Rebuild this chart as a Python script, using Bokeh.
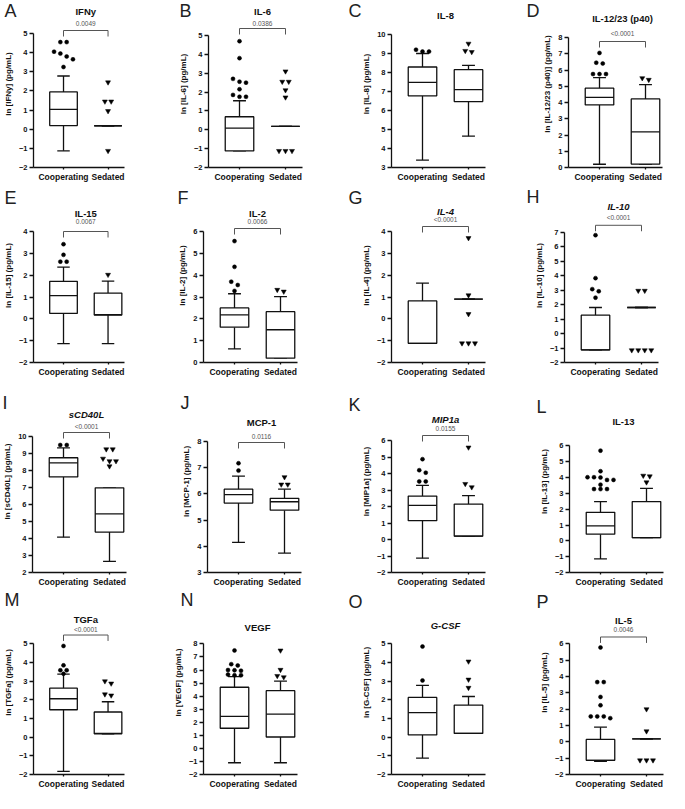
from bokeh.plotting import figure
from bokeh.layouts import column, row
from bokeh.models import Range1d, FixedTicker, Label
from bokeh.embed import file_html
from bokeh.resources import INLINE

FONT = "Liberation Sans"

# ---------------- data ----------------
groups = ["Cooperating", "Sedated"]
panel_letters = ["A", "B", "C", "D", "E", "F", "G", "H",
                 "I", "J", "K", "L", "M", "N", "O", "P"]
analytes = ["IFNy", "IL-6", "IL-8", "IL-12/23 (p40)", "IL-15", "IL-2", "IL-4", "IL-10",
            "sCD40L", "MCP-1", "MIP1a", "IL-13", "TGFa", "VEGF", "G-CSF", "IL-5"]
italic_titles = [False, False, False, False, False, False, True, True,
                 True, False, True, False, False, False, True, False]
p_values = ["0.0049", "0.0386", None, "<0.0001", "0.0067", "0.0066", "<0.0001", "<0.0001",
            "<0.0001", "0.0116", "0.0155", None, "<0.0001", None, None, "0.0046"]
y_axis_min = [-2, -2, 3, 0, -2, 0, -2, -2, 2, 3, -2, -2, -2, -2, -2, -2]
y_axis_max = [5, 5, 10, 8, 4, 6, 4, 7, 10, 8, 6, 6, 5, 8, 5, 6]

# box statistics: [whisker low, Q1, median, Q3, whisker high]
coop_stats = [
    [-1.13, 0.19, 1.04, 1.95, 2.78],
    [-1.12, -1.12, 0.09, 0.69, 1.54],
    [3.39, 6.77, 7.48, 8.29, 9.0],
    [0.2, 3.85, 4.32, 4.88, 5.53],
    [-1.14, 0.25, 1.06, 1.72, 2.37],
    [0.62, 1.62, 2.18, 2.5, 3.15],
    [-1.12, -1.12, -1.12, 0.82, 1.64],
    [-1.13, -1.13, -1.13, 1.27, 1.8],
    [4.08, 7.62, 8.45, 8.75, 9.33],
    [4.15, 5.65, 5.97, 6.18, 6.68],
    [-1.13, 1.14, 2.07, 2.63, 3.28],
    [-1.14, 0.42, 0.95, 1.8, 2.48],
    [-1.83, 1.47, 2.06, 2.63, 3.38],
    [-1.1, 1.54, 2.45, 4.68, 5.5],
    [-1.12, 0.12, 1.32, 2.13, 2.78],
    [-1.19, -1.13, -1.13, 0.15, 0.9],
]
sed_stats = [
    [0.18, 0.18, 0.18, 0.18, 0.18],
    [0.18, 0.18, 0.18, 0.18, 0.18],
    [4.65, 6.47, 7.1, 8.15, 8.38],
    [0.21, 0.21, 2.19, 4.22, 5.1],
    [-1.14, 0.17, 0.19, 1.18, 1.73],
    [0.2, 0.2, 1.5, 2.33, 3.02],
    [0.9, 0.9, 0.9, 0.9, 0.9],
    [1.8, 1.8, 1.8, 1.8, 1.8],
    [2.65, 4.38, 5.45, 6.98, 6.98],
    [3.74, 5.38, 5.7, 5.83, 6.18],
    [0.2, 0.2, 0.2, 2.15, 2.66],
    [0.2, 0.2, 0.2, 2.48, 3.32],
    [0.18, 0.18, 0.2, 1.35, 1.9],
    [-1.1, 0.87, 2.62, 4.42, 5.15],
    [0.2, 0.2, 0.2, 1.72, 2.18],
    [0.18, 0.18, 0.18, 0.18, 0.18],
]
coop_outliers = [
    [4.55, 4.55, 4.05, 3.95, 3.8, 3.65, 3.25],
    [4.7, 3.8, 2.7, 2.55, 2.5, 2.15, 1.85, 1.75, 1.75],
    [9.2, 9.1, 9.1],
    [7.05, 6.45, 6.4, 5.75, 5.75, 5.75],
    [3.42, 2.93, 2.62, 2.62],
    [5.56, 4.38, 3.7, 3.55, 3.28],
    [],
    [6.8, 3.83, 3.07, 2.92, 2.48],
    [9.5, 9.5],
    [7.17, 6.89],
    [4.87, 4.2, 4.05, 3.52, 3.52],
    [5.7, 4.4, 4.02, 4.02, 4.0, 3.85, 3.85, 3.55, 3.27, 3.27, 3.27],
    [4.89, 3.85, 3.59, 3.59, 3.4],
    [7.5, 6.45, 6.35, 6.0, 5.98, 5.95, 5.65, 5.6, 5.6],
    [4.86, 3.04],
    [5.78, 3.66, 3.66, 2.75, 2.24, 1.56, 1.56, 1.56, 1.45],
]
sed_outliers = [
    [2.45, 1.45, 1.45, 0.95, -1.13],
    [3.1, 2.55, 2.55, 2.1, 1.72, -1.12, -1.12, -1.12],
    [9.52, 9.14, 9.08],
    [5.5, 5.4],
    [2.02],
    [3.33, 3.25],
    [3.7, 1.08, 0.22, -1.12, -1.12, -1.12],
    [2.96, 2.96, -1.15, -1.15, -1.15, -1.15],
    [9.25, 9.25, 8.7, 8.55, 8.55, 8.25],
    [6.64, 6.36, 6.36],
    [5.58, 3.37, 3.17],
    [4.12, 4.08, 3.7],
    [3.0, 2.88, 2.3, 2.24],
    [7.5, 6.02, 5.55, 5.45],
    [4.06, 3.09, 2.65],
    [2.0, 0.65, -1.13, -1.13, -1.13],
]

# ---------------- layout (reference pixel geometry) ----------------
ref_axis_x = [33, 213, 398, 577, 33, 208, 398, 573, 35, 212, 398, 578, 33, 208, 398, 578]
ref_top = [33, 35, 34, 37, 238, 238, 238, 239, 447, 452, 451, 457, 662, 662, 662, 662]
ref_bottom = [167, 167, 167, 167, 369, 369, 369, 370, 583, 583, 583, 585, 794, 794, 794, 794]
ref_letter_x = [3, 184, 355, 535, 3, 182, 355, 535, 5, 185, 355, 545, 3, 185, 355, 545]
ref_letter_y = [10, 10, 10, 10, 204, 204, 204, 204, 413, 413, 415, 418, 618, 618, 620, 620]
ref_title_y = [11, 11, 15, 18, 220, 220, 218, 213, 425, 433, 430, 432, 637, 645, 643, 638]
ref_p_y = [23, 23, None, 33, 228, 228, 226, 224, 437, 447, 439, None, 647, None, None, 647]
ref_bracket_y = [30, 28, None, 41, 238, 235, 233, 232, 443, 453, 446, None, 653, None, None, 655]

col_start = [8, 178, 350, 525]
col_width = [170, 172, 175, 152]
col_shift = [5, 3, 1, -1]
letter_side = ["right", "right", "left", "left"]
row_start = [8, 196, 398, 598]
row_height = [188, 202, 200, 201]
row_shift = [8, 1, -3, -10]

CAT_OFF = 31      # px from y axis to first category
CAT_STEP = 46     # px between categories
FRAME_W = 94
BOX_HALF = 0.31
CAP_HALF = 0.14


def swarm(vals, ppu):
    vals = sorted(vals, reverse=True)
    clusters = []
    for v in vals:
        if clusters and abs(clusters[-1][-1] - v) < 3.5 / ppu:
            clusters[-1].append(v)
        else:
            clusters.append([v])
    xo, ys = [], []
    for cl in clusters:
        n = len(cl)
        for k, v in enumerate(cl):
            xo.append((k - (n - 1) / 2) * 6.5 / CAT_STEP)
            ys.append(v)
    return xo, ys


def make_panel(i):
    r, c = divmod(i, 4)
    ymin, ymax = y_axis_min[i], y_axis_max[i]
    top, bot = ref_top[i], ref_bottom[i]
    ppu = (bot - top) / (ymax - ymin)
    ax = ref_axis_x[i]

    def ydat(ry):
        return ymax + (top - ry) / ppu

    def xdat(rx):
        return 1 + (rx - (ax + CAT_OFF)) / CAT_STEP

    left = ax + col_shift[c] - col_start[c]
    top_in_fig = top + row_shift[r] - row_start[r]
    x0 = 1 - CAT_OFF / CAT_STEP
    p = figure(width=col_width[c], height=row_height[r],
               x_range=Range1d(x0, x0 + FRAME_W / CAT_STEP),
               y_range=Range1d(ymin, ymax + top_in_fig / ppu),
               output_backend="svg", toolbar_location=None,
               min_border_left=left,
               min_border_right=col_width[c] - left - FRAME_W,
               min_border_top=0,
               min_border_bottom=row_height[r] - (bot + row_shift[r] - row_start[r]))
    p.outline_line_color = None
    p.grid.visible = False
    p.background_fill_color = "white"
    p.border_fill_color = "white"

    # axes
    p.xaxis.ticker = FixedTicker(ticks=[1, 2])
    p.xaxis.major_label_overrides = {1: groups[0], 2: groups[1]}
    p.xaxis.major_label_text_font = FONT
    p.xaxis.major_label_text_font_style = "bold"
    p.xaxis.major_label_text_font_size = "8.5px"
    p.xaxis.major_label_text_color = "#111111"
    p.xaxis.major_tick_out = 2
    p.xaxis.major_tick_in = 0
    p.xaxis.major_label_standoff = 2
    p.xaxis.minor_tick_line_color = None
    p.yaxis.ticker = FixedTicker(ticks=list(range(ymin, ymax + 1)))
    p.yaxis.bounds = (ymin, ymax)
    p.yaxis.major_label_text_font = FONT
    p.yaxis.major_label_text_font_style = "bold"
    p.yaxis.major_label_text_font_size = "7.5px"
    p.yaxis.major_label_text_color = "#111111"
    p.yaxis.major_tick_out = 4
    p.yaxis.major_tick_in = 0
    p.yaxis.major_label_standoff = 2
    p.yaxis.minor_tick_line_color = None
    p.yaxis.axis_label = "ln [" + analytes[i] + "] (pg/mL)"
    p.yaxis.axis_label_text_font = FONT
    p.yaxis.axis_label_text_font_style = "bold"
    p.yaxis.axis_label_text_font_size = "8px"
    p.yaxis.axis_label_text_color = "#111111"
    p.yaxis.axis_label_standoff = 3
    for a in (p.xaxis, p.yaxis):
        a.axis_line_width = 1.3
        a.axis_line_color = "#111111"
        a.major_tick_line_width = 1.3
        a.major_tick_line_color = "#111111"

    # boxes
    for gx, st in ((1, coop_stats[i]), (2, sed_stats[i])):
        lo, q1, med, q3, hi = st
        p.segment(x0=[gx, gx], y0=[q3, q1], x1=[gx, gx], y1=[hi, lo],
                  line_color="#111111", line_width=1.3)
        p.segment(x0=[gx - CAP_HALF, gx - CAP_HALF], y0=[hi, lo],
                  x1=[gx + CAP_HALF, gx + CAP_HALF], y1=[hi, lo],
                  line_color="#111111", line_width=1.3)
        p.quad(left=[gx - BOX_HALF], right=[gx + BOX_HALF], bottom=[q1], top=[q3],
               fill_color="white", line_color="#111111", line_width=1.3)
        p.segment(x0=[gx - BOX_HALF], y0=[med], x1=[gx + BOX_HALF], y1=[med],
                  line_color="#111111", line_width=1.3)

    xo, ys = swarm(coop_outliers[i], ppu)
    if ys:
        p.scatter([1 + o for o in xo], ys, marker="circle", size=4,
                  fill_color="black", line_color="black", line_width=0.5)
    xo, ys = swarm(sed_outliers[i], ppu)
    if ys:
        p.scatter([2 + o for o in xo], ys, marker="inverted_triangle", size=5,
                  fill_color="black", line_color="black", line_width=0.5)

    # significance bracket
    if p_values[i] is not None:
        by = ydat(ref_bracket_y[i])
        leg = 6 / ppu
        p.line([1, 1, 2, 2], [by - leg, by, by, by - leg], line_color="#555555", line_width=1)
        p.add_layout(Label(x=1.5, y=ydat(ref_p_y[i]), text=p_values[i],
                           text_align="center", text_baseline="middle",
                           text_font=FONT, text_font_size="6.5px", text_color="#555555"))

    # title (inside the frame) & panel letter (in a side panel, outside the frame)
    p.add_layout(Label(x=1.5, y=ydat(ref_title_y[i]), text=analytes[i],
                       text_align="center", text_baseline="middle", text_font=FONT,
                       text_font_size="9.5px", text_color="#111111",
                       text_font_style="bold italic" if italic_titles[i] else "bold"))
    p.add_layout(Label(x=xdat(ref_letter_x[i]), y=ydat(ref_letter_y[i]), text=panel_letters[i],
                       text_align="left", text_baseline="middle", text_font=FONT,
                       text_font_size="18px", text_color="#222222"),
                 letter_side[c])
    return p


panels = [make_panel(i) for i in range(16)]
layout = column(*[row(*panels[k * 4:(k + 1) * 4]) for k in range(4)])

open("out.html", "w").write(file_html(layout, INLINE))
